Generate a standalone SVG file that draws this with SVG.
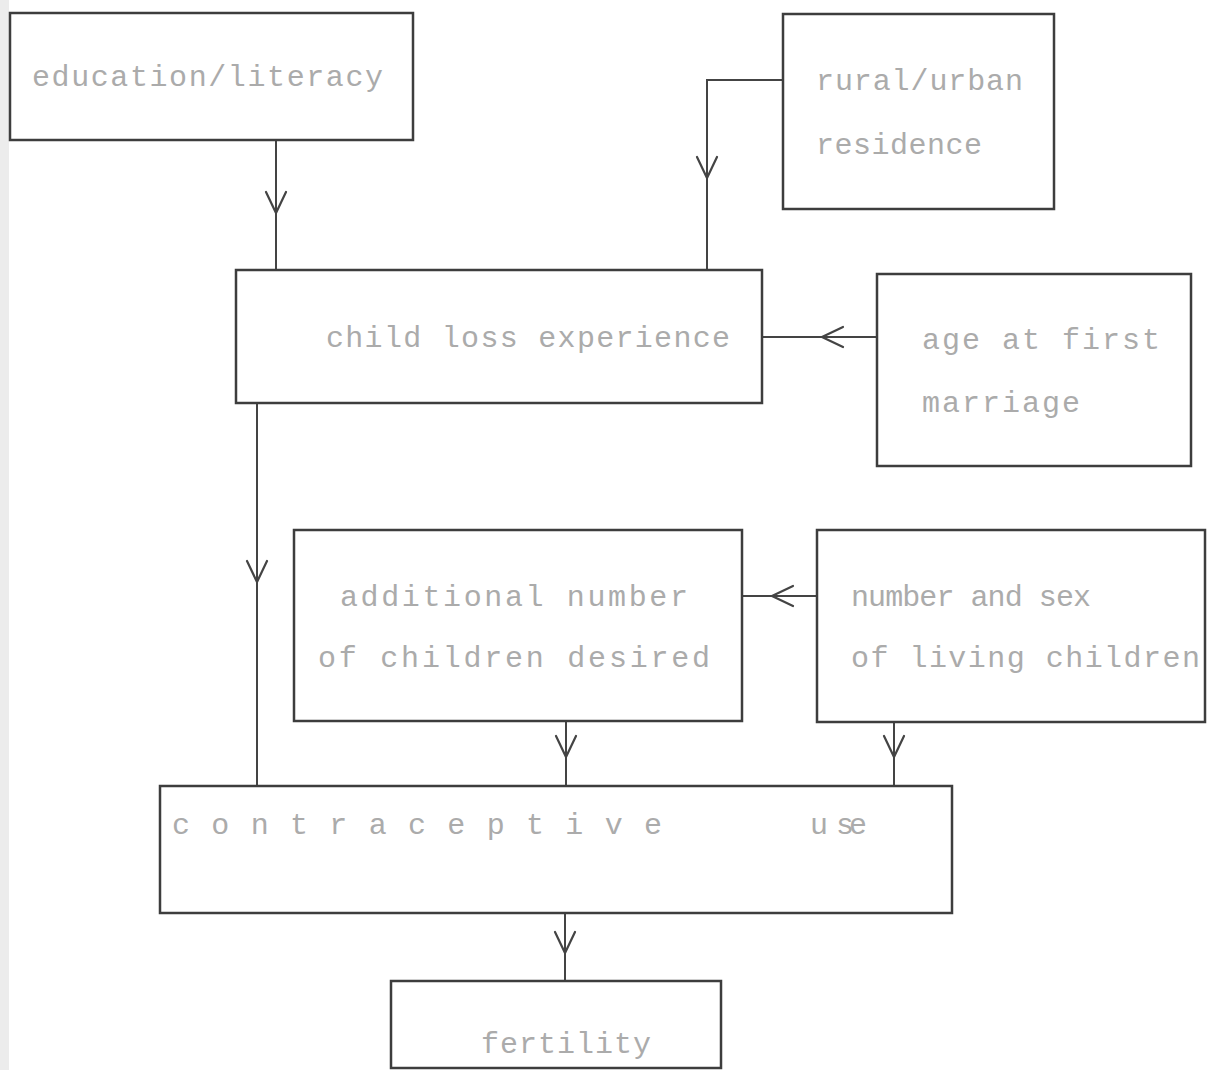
<svg xmlns="http://www.w3.org/2000/svg" xmlns:xlink="http://www.w3.org/1999/xlink" width="1207" height="1070" viewBox="0 0 1207 1070">
<style>
.box{fill:none;stroke:#3d3d3d;stroke-width:2.5}
.lbl{font-family:"Liberation Mono","Courier New",monospace;font-size:30px;fill:#ababab}
.con{fill:none;stroke:#444;stroke-width:2}
.ah{fill:none;stroke:#444;stroke-width:2.2;stroke-linecap:round;stroke-linejoin:round}
</style>
<defs>
<path id="vdown" d="M-10,-21 L0,0 L10,-21"/>
</defs>
<rect x="0" y="0" width="1207" height="1070" fill="#ffffff"/>
<rect x="0" y="0" width="9" height="1070" fill="#ececec"/>

<g id="connectors">
<path class="con" d="M276,140 L276,270"/>
<path class="con" d="M783,80 L707,80 L707,270"/>
<path class="con" d="M877,337 L762,337"/>
<path class="con" d="M257,403 L257,786"/>
<path class="con" d="M817,596 L742,596"/>
<path class="con" d="M566,721 L566,786"/>
<path class="con" d="M894,722 L894,786"/>
<path class="con" d="M565,913 L565,981"/>
<use xlink:href="#vdown" class="ah" transform="translate(276,213)"/>
<use xlink:href="#vdown" class="ah" transform="translate(707,178)"/>
<use xlink:href="#vdown" class="ah" transform="translate(822,337) rotate(90)"/>
<use xlink:href="#vdown" class="ah" transform="translate(257,582)"/>
<use xlink:href="#vdown" class="ah" transform="translate(772,596) rotate(90)"/>
<use xlink:href="#vdown" class="ah" transform="translate(566,757)"/>
<use xlink:href="#vdown" class="ah" transform="translate(894,757)"/>
<use xlink:href="#vdown" class="ah" transform="translate(565,953)"/>
</g>

<g id="education">
<rect class="box" x="10" y="13" width="403" height="127"/>
<text class="lbl" x="32" y="86" textLength="351" lengthAdjust="spacing">education/literacy</text>
</g>

<g id="rural">
<rect class="box" x="783" y="14" width="271" height="195"/>
<text class="lbl" x="816" y="90" textLength="207" lengthAdjust="spacing">rural/urban</text>
<text class="lbl" x="816" y="154" textLength="166" lengthAdjust="spacing">residence</text>
</g>

<g id="childloss">
<rect class="box" x="236" y="270" width="526" height="133"/>
<text class="lbl" x="326" y="347" textLength="404" lengthAdjust="spacing">child loss experience</text>
</g>

<g id="agemarriage">
<rect class="box" x="877" y="274" width="314" height="192"/>
<text class="lbl" x="922" y="349" textLength="238" lengthAdjust="spacing">age at first</text>
<text class="lbl" x="922" y="412" textLength="158" lengthAdjust="spacing">marriage</text>
</g>

<g id="additional">
<rect class="box" x="294" y="530" width="448" height="191"/>
<text class="lbl" x="340" y="606" textLength="348" lengthAdjust="spacing">additional number</text>
<text class="lbl" x="318" y="667" textLength="392" lengthAdjust="spacing">of children desired</text>
</g>

<g id="numbersex">
<rect class="box" x="817" y="530" width="388" height="192"/>
<text class="lbl" x="851" y="606" textLength="240" lengthAdjust="spacing">number and sex</text>
<text class="lbl" x="851" y="667" textLength="349" lengthAdjust="spacing">of living children</text>
</g>

<g id="contraceptive">
<rect class="box" x="160" y="786" width="792" height="127"/>
<text class="lbl" x="172" y="834" textLength="490" lengthAdjust="spacing">c o n t r a c e p t i v e</text>
<text class="lbl" x="810" y="834" textLength="57" lengthAdjust="spacing">u se</text>
</g>

<g id="fertility">
<rect class="box" x="391" y="981" width="330" height="87"/>
<text class="lbl" x="481" y="1053" textLength="170" lengthAdjust="spacing">fertility</text>
</g>
</svg>
